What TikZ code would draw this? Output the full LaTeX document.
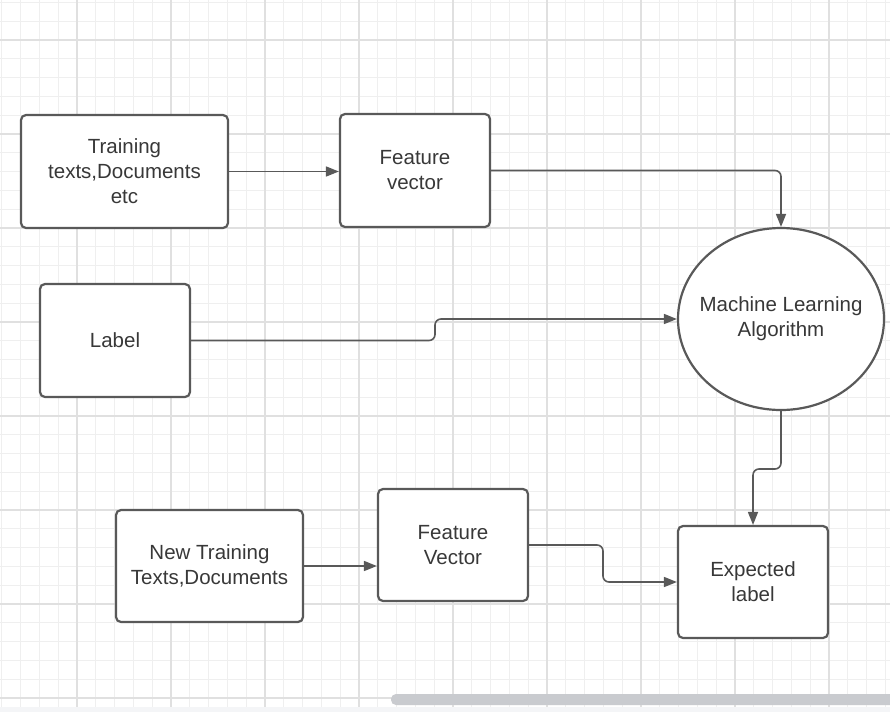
\documentclass[tikz,border=0pt]{standalone}
\usepackage{fontspec}
\setmainfont{Liberation Sans}
\usetikzlibrary{arrows.meta,shapes.geometric}
\definecolor{minorgrid}{HTML}{EFEFEF}
\definecolor{majorgrid}{HTML}{E0E0E0}
\definecolor{edge}{HTML}{595959}
\definecolor{txt}{HTML}{383838}
\definecolor{scroll}{HTML}{C9CBCF}
\definecolor{strip}{HTML}{F4F5F7}
\tikzset{
  stepbox/.style={draw=edge, line width=2.2pt, rounded corners=5pt, fill=white,
    text=txt, align=center, font=\fontsize{20.5}{25}\selectfont, inner sep=0pt},
  algo/.style={ellipse, draw=edge, line width=2.2pt, fill=white, text=txt,
    align=center, font=\fontsize{20.5}{25}\selectfont, inner xsep=-30pt, inner ysep=0pt,
    minimum width=206pt, minimum height=182pt},
  conn/.style={draw=edge, line width=1.6pt, rounded corners=6pt,
    -{Triangle[length=13pt,width=10pt]}},
}
\begin{document}
\begin{tikzpicture}[x=1pt,y=-1pt]
\useasboundingbox (0,0) rectangle (890,712);
\fill[white] (0,0) rectangle (890,712);
% grid
\foreach \i in {0,...,47} {
  \draw[minorgrid, line width=0.8pt] ({1.8+18.8*\i},0) -- ({1.8+18.8*\i},712);
}
\foreach \i in {0,...,37} {
  \draw[minorgrid, line width=0.8pt] (0,{2.4+18.8*\i}) -- (890,{2.4+18.8*\i});
}
\foreach \i in {0,...,9} {
  \draw[majorgrid, line width=1.1pt] ({77+94*\i},0) -- ({77+94*\i},712);
}
\foreach \i in {0,...,7} {
  \draw[majorgrid, line width=1.1pt] (0,{40+94*\i}) -- (890,{40+94*\i});
}
% bottom strip and scrollbar
\fill[strip] (0,707) rectangle (890,712);
\fill[scroll, rounded corners=5pt] (391,694) rectangle (896,705);
% nodes
\node[stepbox, minimum width=207pt, minimum height=113pt] (tr) at (124.5,171.5) {Training\\texts,Documents\\etc};
\node[stepbox, minimum width=150pt, minimum height=113pt] (fv) at (415,170.5) {Feature\\vector};
\node[stepbox, minimum width=150pt, minimum height=113pt] (lab) at (115,340.5) {Label};
\node[algo] (ml) at (781,319) {Machine Learning\\Algorithm};
\node[stepbox, minimum width=187pt, minimum height=112pt] (nt) at (209.5,566) {New Training\\Texts,Documents};
\node[stepbox, minimum width=150pt, minimum height=112pt] (fv2) at (453,545) {Feature\\Vector};
\node[stepbox, minimum width=150pt, minimum height=112pt] (el) at (753,582) {Expected\\label};
% bend points
\coordinate (b1) at (435,340.5);
\coordinate (b2) at (781,469);
\coordinate (b3) at (603,545);
% connectors
\draw[conn] (tr.east) -- (tr.east -| fv.west);
\draw[conn] (fv.east) -| (ml.north);
\draw[conn] (lab.east) -- (b1) |- (ml.west);
\draw[conn] (ml.south) -- (b2) -| (el.north);
\draw[conn] (nt.east) -- (nt.east -| fv2.west);
\draw[conn] (fv2.east) -- (b3) |- (el.west);
\end{tikzpicture}
\end{document}
